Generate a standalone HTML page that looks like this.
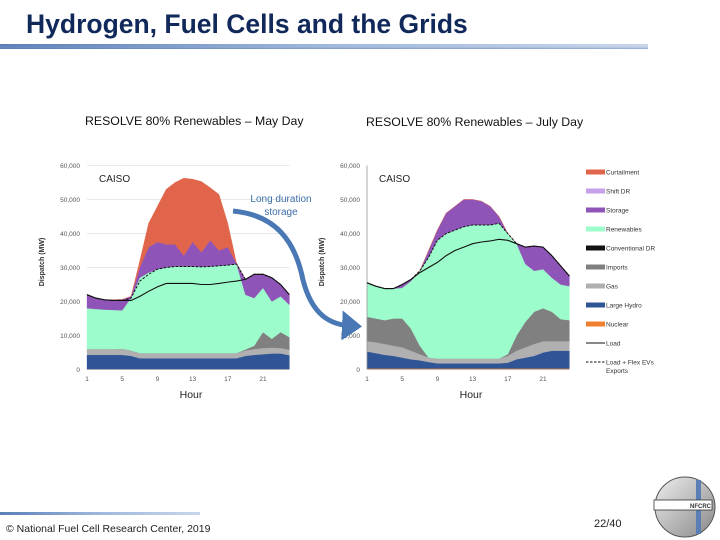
<!DOCTYPE html>
<html><head><meta charset="utf-8"><style>
html,body{margin:0;padding:0;background:#fff;}
svg{display:block;font-family:"Liberation Sans",sans-serif;}
</style></head><body>
<svg id="root" width="720" height="540" viewBox="0 0 720 540">
<defs>
<linearGradient id="bar" x1="0" x2="1" y1="0" y2="0">
<stop offset="0" stop-color="#5b7fb8"/><stop offset="0.5" stop-color="#9fb8dc"/><stop offset="1" stop-color="#c8d6ea"/></linearGradient>
<linearGradient id="barv" x1="0" x2="0" y1="0" y2="1">
<stop offset="0" stop-color="#c8d6ea" stop-opacity="0"/><stop offset="1" stop-color="#4f6fa5" stop-opacity="0.5"/></linearGradient>
<linearGradient id="logo" x1="0" x2="1" y1="0" y2="1"><stop offset="0" stop-color="#eee"/><stop offset="1" stop-color="#888"/></linearGradient>
<marker id="ah" markerWidth="6" markerHeight="6" refX="2" refY="3" orient="auto" markerUnits="strokeWidth"><path d="M0,0 L4,3 L0,6 z" fill="#4a78b5"/></marker>
</defs>
<text x="26" y="33" font-size="26.5" font-weight="bold" fill="#10295a">Hydrogen, Fuel Cells and the Grids</text>
<rect x="0" y="44" width="648" height="5" fill="url(#bar)"/>
<rect x="0" y="46" width="648" height="3" fill="url(#barv)"/>
<text x="85" y="125" font-size="12.3" fill="#111">RESOLVE 80% Renewables – May Day</text>
<text x="366" y="126" font-size="12.3" fill="#111">RESOLVE 80% Renewables – July Day</text>
<g id="may"></g>
<g id="jul"></g>
<g id="legend"></g>
<path d="M233,211 C275,215 295,240 303,280 C312,315 330,325 352,326" fill="none" stroke="#4a78b5" stroke-width="5" marker-end="url(#ah)"/>
<text x="281" y="202" font-size="10" fill="#3a6ea8" text-anchor="middle">Long duration</text>
<text x="281" y="215" font-size="10" fill="#3a6ea8" text-anchor="middle">storage</text>
<rect x="0" y="512" width="200" height="3" fill="url(#bar)"/>
<text x="6" y="532" font-size="10.5" fill="#222">© National Fuel Cell Research Center, 2019</text>
<text x="594" y="527" font-size="11" fill="#222">22/40</text>
<g>
<circle cx="685" cy="507" r="30" fill="url(#logo)" stroke="#555"/>
<rect x="696" y="480" width="5" height="54" fill="#5a7fb5"/>
<rect x="654" y="500" width="58" height="10" fill="#fff" stroke="#333" stroke-width="0.8"/>
<text x="690" y="508" font-size="6" font-weight="bold" fill="#333">NFCRC</text>
</g>
</svg>
<script>
const hours=[1,2,3,4,5,6,7,8,9,10,11,12,13,14,15,16,17,18,19,20,21,22,23,24];
const yTicks=[0,10000,20000,30000,40000,50000,60000];
const yTickLabels=["0","10,000","20,000","30,000","40,000","50,000","60,000"];
const xTickLabels=["1","5","9","13","17","21"];
const seriesNames=["Nuclear","Large Hydro","Gas","Imports","Renewables","Storage","Curtailment"];
const seriesColors=["#f08030","#2f5597","#b0b0b0","#808080","#9dfccc","#8e54b8","#e0654b"];
// May day (thousand MW)
const mayNuclear=[0,0,0,0,0,0,0,0,0,0,0,0,0,0,0,0,0,0,0,0,0,0,0,0];
const mayHydro=[4.3,4.3,4.3,4.3,4.3,4,3.3,3.3,3.3,3.3,3.3,3.3,3.3,3.3,3.3,3.3,3.3,3.3,4,4.3,4.5,4.7,4.7,4.2];
const mayGas=[1.7,1.7,1.7,1.7,1.8,1.6,1.5,1.5,1.5,1.5,1.5,1.5,1.5,1.5,1.5,1.5,1.5,1.5,1.6,1.7,1.8,1.7,1.6,1.6];
const mayImports=[0,0,0,0,0,0,0,0,0,0,0,0,0,0,0,0,0,0,0.3,1,4.7,2.6,4.7,3.7];
const mayRenewables=[12,11.8,11.6,11.5,11.3,15.4,22.2,23.7,24.7,25.2,25.5,25.5,25.5,25.4,25.5,25.7,25.9,26.2,16.1,14,13,11,10.5,9.5];
const mayStorage=[4,3.2,2.9,3,3.2,0.5,3,7.5,8,6.8,6.5,3.2,7.2,4.3,7.7,4.5,5.3,0.2,4.5,7,4,7,3.5,3];
const mayCurtail=[0,0,0,0,0,0,2,7,10.5,16.2,18.2,22.8,18.5,20.8,15.5,16.5,7,0,0,0,0,0,0,0];
const mayLoad=[22,21,20.5,20.3,20.3,20.3,21.5,23,24.3,25.3,25.3,25.3,25.3,25,25,25.3,25.7,26,26.5,28,28,27,25,22];
const mayFlex=[22,21,20.5,20.3,20.3,21,26,28,29.5,30,30.3,30.3,30.3,30.2,30.3,30.5,30.7,31,26.5,28,28,27,25,22];
// July day
const julNuclear=[0.3,0.3,0.3,0.3,0.3,0.3,0.3,0.3,0.3,0.3,0.3,0.3,0.3,0.3,0.3,0.3,0.3,0.3,0.3,0.3,0.3,0.3,0.3,0.3];
const julHydro=[5,4.5,4,3.7,3.2,2.7,2.4,1.9,1.5,1.5,1.5,1.5,1.5,1.5,1.5,1.5,1.7,2.7,3.2,3.7,4.7,5.2,5.2,5.2];
const julGas=[3,3.2,3.2,3,3,2.5,1.8,1.3,1.4,1.4,1.4,1.4,1.4,1.4,1.4,1.4,2,2.5,3,3.5,3.3,2.8,2.8,2.8];
const julImports=[7.2,7,7,8,8.5,6.5,2.5,0,0,0,0,0,0,0,0,0,0.5,4.5,7.5,9.5,9.7,8.7,6.5,6.2];
const julRenewables=[10,9.5,9.3,8.8,9,14,22,29.5,34.8,36.8,37.8,38.8,39.3,39.3,39.3,39.8,35.5,27,17,12,11.5,10,10.2,10];
const julStorage=[0,0,0,0,1,0.5,0,2,3,6,7,8,7.5,7,5.5,2,0,0,5,7.3,6.5,6.5,5.5,3];
const julCurtail=[0,0,0,0,0,0,0,0,0,0,0,0,0,0,0,0,0,0,0,0,0,0,0,0];
const julLoad=[25.5,24.5,23.8,23.8,25,26.5,28.5,30,31.5,33.5,35,36,37,37.5,37.8,38.3,38,37,36,36.3,36,33.5,30.5,27.5];
const julFlex=[25.5,24.5,23.8,23.8,25,26.5,29,33,38,40,41,42,42.5,42.5,42.5,43,40,37,36,36.3,36,33.5,30.5,27.5];

const NS="http://www.w3.org/2000/svg";
function mk(tag,attrs,parent){const e=document.createElementNS(NS,tag);for(const k in attrs)e.setAttribute(k,attrs[k]);parent.appendChild(e);return e;}

function drawChart(g,x0,series,load,flex,opt){
  const y0=369.5,yTop=165.5,dx=8.8;
  const xs=h=>x0+(h-1)*dx;
  const ys=v=>y0-(v/60000)*(y0-yTop);
  yTicks.forEach((t,i)=>{
    if(opt.grid&&t>0){const l=mk('line',{x1:xs(1),x2:xs(24),y1:ys(t),y2:ys(t),stroke:'#e2e2e2','stroke-width':0.7},g);
      }
    const tx=mk('text',{x:x0-7,y:ys(t)+2.5,'font-size':6.5,fill:'#555','text-anchor':'end'},g);tx.textContent=yTickLabels[i];
    
  });
  xTickLabels.forEach(l=>{const h=+l;const tx=mk('text',{x:xs(h),y:381,'font-size':6.5,fill:'#555','text-anchor':'middle'},g);tx.textContent=l;
    });
  let base=hours.map(()=>0);
  series.forEach((s,si)=>{
    const top=base.map((b,i)=>b+s[i]*1000);
    let d='M'+hours.map((h,i)=>xs(h)+','+ys(top[i])).join(' L');
    for(let i=hours.length-1;i>=0;i--)d+=' L'+xs(hours[i])+','+ys(base[i]);
    const p=mk('path',{d:d+'Z',fill:seriesColors[si],stroke:seriesColors[si],'stroke-width':0.3},g);
    
    
    base=top;
  });
  if(opt.axis){const a=mk('line',{x1:xs(1),x2:xs(1),y1:yTop,y2:y0,stroke:'#999','stroke-width':0.8},g);}
  const ax=mk('line',{x1:xs(1),x2:xs(24),y1:y0,y2:y0,stroke:'#bbb','stroke-width':0.8},g);
  const fl=mk('polyline',{points:hours.map((h,i)=>xs(h)+','+ys(flex[i]*1000)).join(' '),fill:'none',stroke:'#111','stroke-width':1,'stroke-dasharray':'2.5,1.5'},g);
  
  const ll=mk('polyline',{points:hours.map((h,i)=>xs(h)+','+ys(load[i]*1000)).join(' '),fill:'none',stroke:'#111','stroke-width':1.1},g);
  
  const c=mk('text',{x:x0+12,y:182,'font-size':10,fill:'#222'},g);c.textContent='CAISO';
  const yl=mk('text',{x:0,y:0,'font-size':7,'font-weight':'bold',fill:'#333','text-anchor':'middle',transform:`translate(${x0-43},262) rotate(-90)`},g);yl.textContent='Dispatch (MW)';
  
  const xl=mk('text',{x:x0+104,y:398,'font-size':10.5,fill:'#222','text-anchor':'middle'},g);xl.textContent='Hour';
  
}
drawChart(document.getElementById('may'),87,[mayNuclear,mayHydro,mayGas,mayImports,mayRenewables,mayStorage,mayCurtail],mayLoad,mayFlex,{grid:true,axis:false});
drawChart(document.getElementById('jul'),367,[julNuclear,julHydro,julGas,julImports,julRenewables,julStorage,julCurtail],julLoad,julFlex,{grid:false,axis:true});

const legendLabels=["Curtailment","Shift DR","Storage","Renewables","Conventional DR","Imports","Gas","Large Hydro","Nuclear","Load","Load + Flex EVs"];
const legendColors=["#e0654b","#c6a0e8","#8e54b8","#9dfccc","#111","#808080","#b0b0b0","#2f5597","#f08030","line","dash"];
const lg=document.getElementById('legend');
legendLabels.forEach((l,i)=>{
  const y=172+i*19;
  const c=legendColors[i];
  let s;
  if(c==='line')s=mk('line',{x1:586,x2:605,y1:y,y2:y,stroke:'#111','stroke-width':1},lg);
  else if(c==='dash')s=mk('line',{x1:586,x2:605,y1:y,y2:y,stroke:'#111','stroke-width':1,'stroke-dasharray':'2.5,1.5'},lg);
  else s=mk('rect',{x:586,y:y-2.5,width:19,height:5,fill:c},lg);
  
  const t=mk('text',{x:606,y:y+2.3,'font-size':6.5,fill:'#333'},lg);t.textContent=l;
  
  if(c==='dash'){const t2=mk('text',{x:606,y:y+11,'font-size':6.5,fill:'#333'},lg);t2.textContent='Exports';
    }
});
</script>
</body></html>
